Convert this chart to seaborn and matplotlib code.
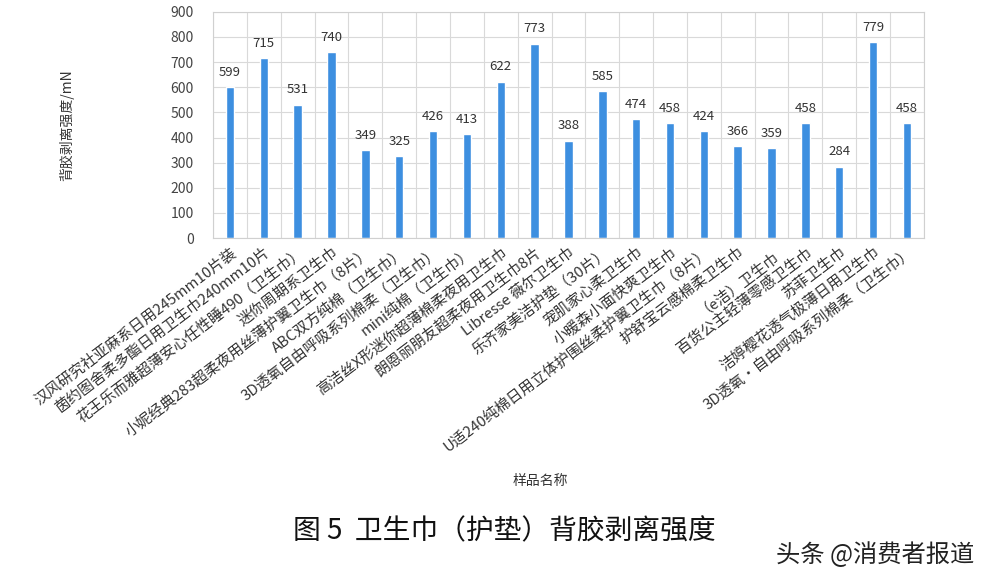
import numpy as np
import pandas as pd
import matplotlib
matplotlib.use("Agg")
import matplotlib.pyplot as plt
import seaborn as sns

# sample names (x axis) and peel strength values
samples = [
    "汉风研究社亚麻系日用245mm10片装",
    "茵约图舍柔多酯日用卫生巾240mm10片",
    "花王乐而雅超薄安心任性睡490（卫生巾）",
    "迷你周期系卫生巾",
    "小妮经典283超柔夜用丝薄护翼卫生巾（8片）",
    "ABC双方纯棉（卫生巾）",
    "3D透氧自由呼吸系列棉柔（卫生巾）",
    "mini纯棉（卫生巾）",
    "高洁丝X形迷你超薄棉柔夜用卫生巾",
    "朗恩丽朋友超柔夜用卫生巾8片",
    "Libresse 薇尔卫生巾",
    "乐齐家美洁护垫（30片）",
    "宠肌家心柔卫生巾",
    "小暖森小面快爽卫生巾",
    "U适240纯棉日用立体护围丝柔护翼卫生巾（8片）",
    "护舒宝云感棉柔卫生巾",
    "（e洁）卫生巾",
    "百货公主轻薄零感卫生巾",
    "苏菲卫生巾",
    "洁婷樱花透气极薄日用卫生巾",
    "3D透氧·自由呼吸系列棉柔（卫生巾）",
]
strength = [599, 715, 531, 740, 349, 325, 426, 413, 622, 773, 388,
            585, 474, 458, 424, 366, 359, 458, 284, 779, 458]

df = pd.DataFrame({"样品名称": samples, "强度": strength})

sns.set_style("whitegrid")
plt.rcParams['font.family'] = ['Noto Sans CJK SC', 'DejaVu Sans']

fig = plt.figure(figsize=(9.88, 5.88), dpi=100)
ax = fig.add_axes([0.2156, 0.595, 0.7195, 0.385])

sns.barplot(data=df, x="样品名称", y="强度", color="#3d8fe0",
            width=0.25, saturation=1, ax=ax)
ax.bar_label(ax.containers[0], padding=6, fontsize=9.5, color="#333333")

ax.set_xlim(-0.5, len(samples) - 0.5)
ax.set_ylim(0, 900)
ax.set_yticks(range(0, 901, 100))

# grid: horizontal at every 100, vertical between categories
ax.set_xticks(np.arange(-0.5, len(samples), 1), minor=True)
ax.grid(False)
ax.grid(which="major", axis="y", color="#d9d9d9", lw=0.8)
ax.grid(which="minor", axis="x", color="#d9d9d9", lw=0.8)
for s in ax.spines.values():
    s.set_color("#d0d0d0")
    s.set_linewidth(0.8)

ax.tick_params(axis="y", labelsize=10, colors="#444444", length=0, pad=14)
ax.tick_params(axis="x", which="both", length=0, pad=5)
ax.set_xticks(range(len(samples)))
ax.set_xticklabels(samples, rotation=37, ha="right", rotation_mode="anchor",
                   fontsize=10.8, color="#333333")

ax.set_xlabel("样品名称", fontsize=10, color="#333333", labelpad=0)
ax.xaxis.set_label_coords(0.46, -1.04)
ax.set_ylabel("背胶剥离强度/mN", fontsize=10, color="#333333")
ax.yaxis.set_label_coords(-0.195, 0.5)

fig.text(0.51, 0.097, "图 5  卫生巾（护垫）背胶剥离强度", ha="center", va="center",
         fontsize=20, color="#111111")
fig.text(0.986, 0.056, "头条 @消费者报道", ha="right", va="center",
         fontsize=17.5, color="#222222")

fig.savefig("out.png", dpi=100)
